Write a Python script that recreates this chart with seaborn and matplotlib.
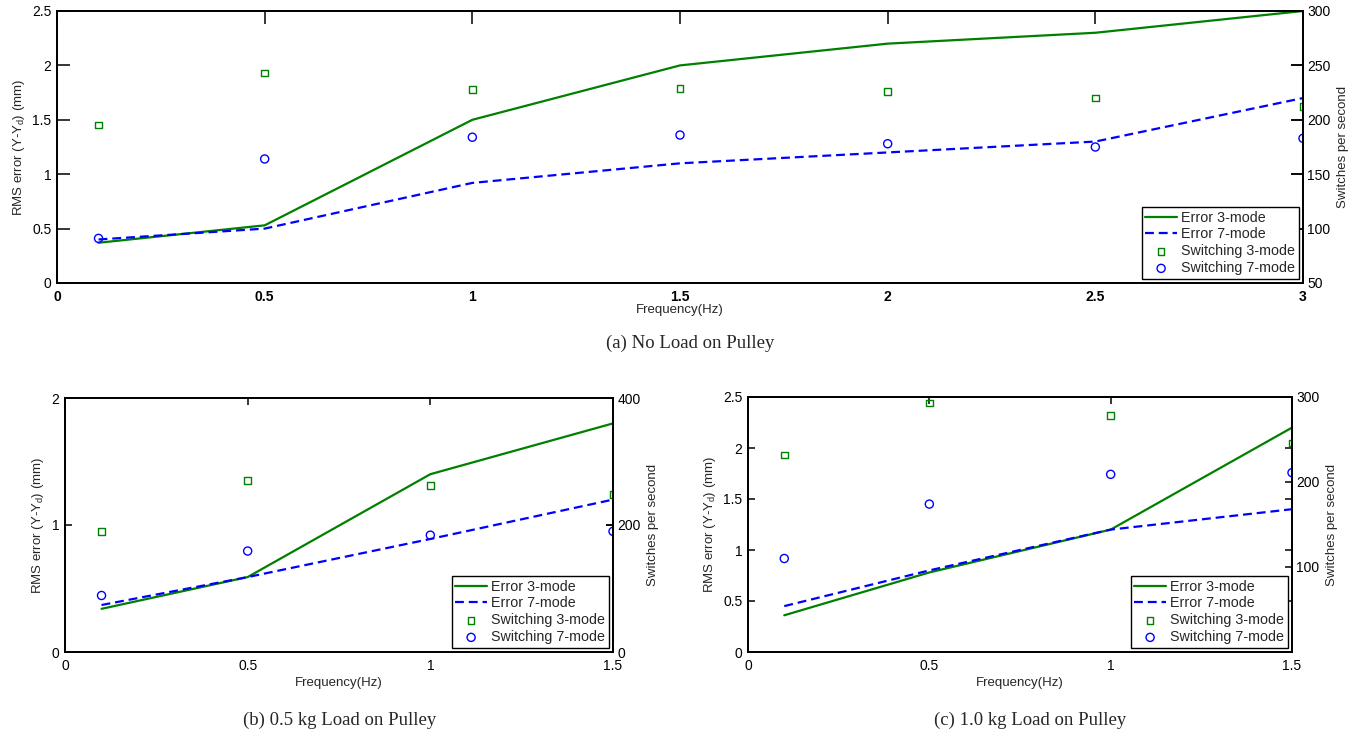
import numpy as np
import pandas as pd
import matplotlib
matplotlib.use("Agg")
import matplotlib.pyplot as plt
import seaborn as sns

# ---- data -------------------------------------------------------------
freq_a = [0.1, 0.5, 1.0, 1.5, 2.0, 2.5, 3.0]
err3_a = [0.37, 0.53, 1.50, 2.00, 2.20, 2.30, 2.50]
err7_a = [0.40, 0.50, 0.92, 1.10, 1.20, 1.30, 1.70]
sw3_a = [195, 243, 228, 229, 226, 220, 212]
sw7_a = [91, 164, 184, 186, 178, 175, 183]

freq_b = [0.1, 0.5, 1.0, 1.5]
err3_b = [0.34, 0.59, 1.40, 1.80]
err7_b = [0.37, 0.59, 0.89, 1.20]
sw3_b = [190, 270, 262, 248]
sw7_b = [89, 159, 184, 190]

freq_c = [0.1, 0.5, 1.0, 1.5]
err3_c = [0.36, 0.78, 1.20, 2.20]
err7_c = [0.45, 0.80, 1.20, 1.40]
sw3_c = [232, 293, 278, 246]
sw7_c = [110, 174, 209, 211]

captions = ["(a) No Load on Pulley", "(b) 0.5 kg Load on Pulley",
            "(c) 1.0 kg Load on Pulley"]

# ---- style ------------------------------------------------------------
sns.set_style("white")
plt.rcParams["font.family"] = ["Liberation Sans", "DejaVu Sans"]
plt.rcParams["mathtext.fontset"] = "custom"
plt.rcParams["mathtext.rm"] = "Liberation Sans"
plt.rcParams["mathtext.it"] = "Liberation Sans"

GREEN = "#008000"
BLUE = "#0000ff"
W, H = 1369, 739

fig = plt.figure(figsize=(W / 100, H / 100), dpi=100)


def px_axes(left, top, right, bottom):
    return fig.add_axes([left / W, 1 - bottom / H, (right - left) / W,
                         (bottom - top) / H])


def panel(rect, freq, e3, e7, s3, s7, xlim, xticks, ylim, yticks,
          y2lim, y2ticks, ticklen, xbold=False, xlabelpad=3):
    ax = px_axes(*rect)
    ax2 = ax.twinx()
    df = pd.DataFrame({"f": freq, "e3": e3, "e7": e7, "s3": s3, "s7": s7})

    sns.lineplot(data=df, x="f", y="e3", ax=ax, color=GREEN, lw=1.6,
                 label="Error 3-mode", sort=False, estimator=None)
    sns.lineplot(data=df, x="f", y="e7", ax=ax, color=BLUE, lw=1.6,
                 dashes=False, label="Error 7-mode", sort=False, estimator=None)
    ax.lines[1].set_dashes((4, 2.2))

    sns.scatterplot(data=df, x="f", y="s3", ax=ax2, marker="s", s=22,
                    facecolors="none", edgecolor=GREEN, linewidth=1.0,
                    label="Switching 3-mode")
    sns.scatterplot(data=df, x="f", y="s7", ax=ax2, marker="o", s=34,
                    facecolors="none", edgecolor=BLUE, linewidth=1.0,
                    label="Switching 7-mode")

    ax.set_xlim(*xlim)
    ax.set_xticks(xticks)
    ax.set_xticklabels([f"{t:g}" for t in xticks],
                       fontweight="bold" if xbold else "normal")
    ax.set_ylim(*ylim)
    ax.set_yticks(yticks)
    ax.set_yticklabels([f"{t:g}" for t in yticks])
    ax2.set_ylim(*y2lim)
    ax2.set_yticks(y2ticks)
    ax2.set_yticklabels([f"{t:g}" for t in y2ticks])

    ax.set_xlabel("Frequency(Hz)", fontsize=9.5, labelpad=xlabelpad)
    ax.set_ylabel(r"RMS error (Y-Y$_\mathregular{d}$) (mm)", fontsize=9.5,
                  labelpad=4)
    ax2.set_ylabel("Switches per second", fontsize=9.5, labelpad=5)

    for a in (ax, ax2):
        for s in a.spines.values():
            s.set_color("black")
            s.set_linewidth(1.3)
    ax.tick_params(axis="both", direction="in", length=ticklen, width=1.1,
                   labelsize=10, colors="black", top=True, right=True,
                   labelright=False, pad=4)
    ax2.tick_params(axis="y", direction="in", length=ticklen, width=1.1,
                    labelsize=10, colors="black", pad=3)
    ax.tick_params(axis="x", pad=5)

    h1, l1 = ax.get_legend_handles_labels()
    h2, l2 = ax2.get_legend_handles_labels()
    if ax.get_legend():
        ax.get_legend().remove()
    ax2.legend(h1 + h2, l1 + l2, loc="lower right", fontsize=10.3,
               frameon=True, fancybox=False, edgecolor="black",
               framealpha=1, borderaxespad=0.3, handlelength=2.2,
               handletextpad=0.3, labelspacing=0.2, borderpad=0.25)
    ax2.get_legend().get_frame().set_linewidth(1.0)
    return ax, ax2


panel((57, 11, 1303, 283), freq_a, err3_a, err7_a, sw3_a, sw7_a,
      (0, 3), [0, 0.5, 1, 1.5, 2, 2.5, 3], (0, 2.5),
      [0, 0.5, 1, 1.5, 2, 2.5], (50, 300), [50, 100, 150, 200, 250, 300], 9,
      xbold=True, xlabelpad=0)

panel((65, 398, 613, 652), freq_b, err3_b, err7_b, sw3_b, sw7_b,
      (0, 1.5), [0, 0.5, 1, 1.5], (0, 2), [0, 1, 2],
      (0, 400), [0, 200, 400], 5)

panel((748, 397, 1292, 652), freq_c, err3_c, err7_c, sw3_c, sw7_c,
      (0, 1.5), [0, 0.5, 1, 1.5], (0, 2.5), [0, 0.5, 1, 1.5, 2, 2.5],
      (0, 300), [100, 200, 300], 5)

cap_kw = dict(ha="center", va="center", fontsize=13.5,
              family=["Liberation Serif", "DejaVu Serif"])
fig.text(690 / W, 1 - 343 / H, captions[0], **cap_kw)
fig.text(340 / W, 1 - 720 / H, captions[1], **cap_kw)
fig.text(1030 / W, 1 - 720 / H, captions[2], **cap_kw)

fig.savefig("out.png", dpi=100)
